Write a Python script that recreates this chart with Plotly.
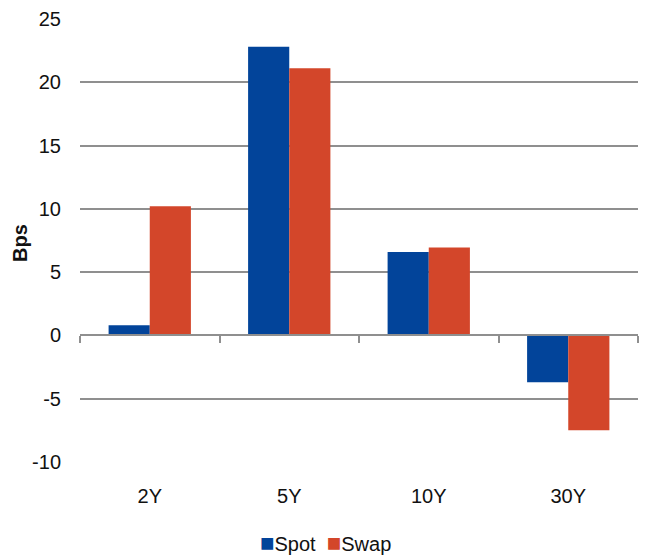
import plotly.graph_objects as go

categories = ["2Y", "5Y", "10Y", "30Y"]
spot = [0.8, 22.8, 6.6, -3.7]
swap = [10.2, 21.1, 6.95, -7.5]
y_ticks = [-10, -5, 0, 5, 10, 15, 20, 25]
y_tick_text = ["-10", "-5", "0", "5", "10", "15", "20", "25"]
series_names = ["Spot", "Swap"]

BLUE = "#02449A"
RED = "#D3462A"
GRID = "#8F8F8F"
FONT = "Liberation Sans, Arial, sans-serif"
FS = 20

fig = go.Figure()
fig.add_trace(go.Bar(name=series_names[0], x=categories, y=spot, marker=dict(color=BLUE, line=dict(width=0))))
fig.add_trace(go.Bar(name=series_names[1], x=categories, y=swap, marker=dict(color=RED, line=dict(width=0))))
# invisible trace to render the zero-line axis with boundary ticks
fig.add_trace(go.Scatter(x=categories, y=[0]*len(categories), xaxis="x2", mode="markers",
                         marker=dict(opacity=0), showlegend=False, hoverinfo="skip"))

ymin, ymax = -10, 25
legend_text = (f"<span style='color:{BLUE};font-size:24px'>■</span>{series_names[0]}  "
               f"<span style='color:{RED};font-size:24px'>■</span>{series_names[1]}")

fig.update_layout(
    width=648, height=557,
    margin=dict(l=80, r=10, t=19, b=95),
    paper_bgcolor="white", plot_bgcolor="white",
    barmode="group", bargap=0.41, bargroupgap=0,
    showlegend=False,
    font=dict(family=FONT, size=FS, color="#111111"),
    xaxis=dict(showgrid=False, showline=False, zeroline=False, ticks="", automargin=False,
               ticklabelstandoff=20, tickfont=dict(size=FS)),
    xaxis2=dict(overlaying="x", anchor="free", position=(0 - ymin) / (ymax - ymin),
                matches="x", showline=True, linecolor=GRID, linewidth=1.5,
                ticks="outside", tickson="boundaries", ticklen=7, tickcolor=GRID, tickwidth=1.5,
                showticklabels=False, showgrid=False, zeroline=False, automargin=False),
    yaxis=dict(range=[ymin, ymax], tickvals=y_ticks, ticktext=y_tick_text, showgrid=True,
               gridcolor=GRID, gridwidth=1.5, automargin=False,
               zeroline=False, showline=False, ticks="", ticklabelstandoff=18,
               tickfont=dict(size=FS)),
    annotations=[
        dict(text="<b>Bps</b>", xref="paper", yref="paper", x=(20 - 80) / 558, y=(462 - 243) / 443,
             textangle=-90, showarrow=False, font=dict(size=FS),
             xanchor="center", yanchor="middle"),
        dict(text=legend_text, xref="paper", yref="paper", x=(325 - 80) / 558, y=(462 - 542) / 443,
             showarrow=False, font=dict(size=FS), xanchor="center", yanchor="middle"),
    ],
)

fig.write_html("out.html")
